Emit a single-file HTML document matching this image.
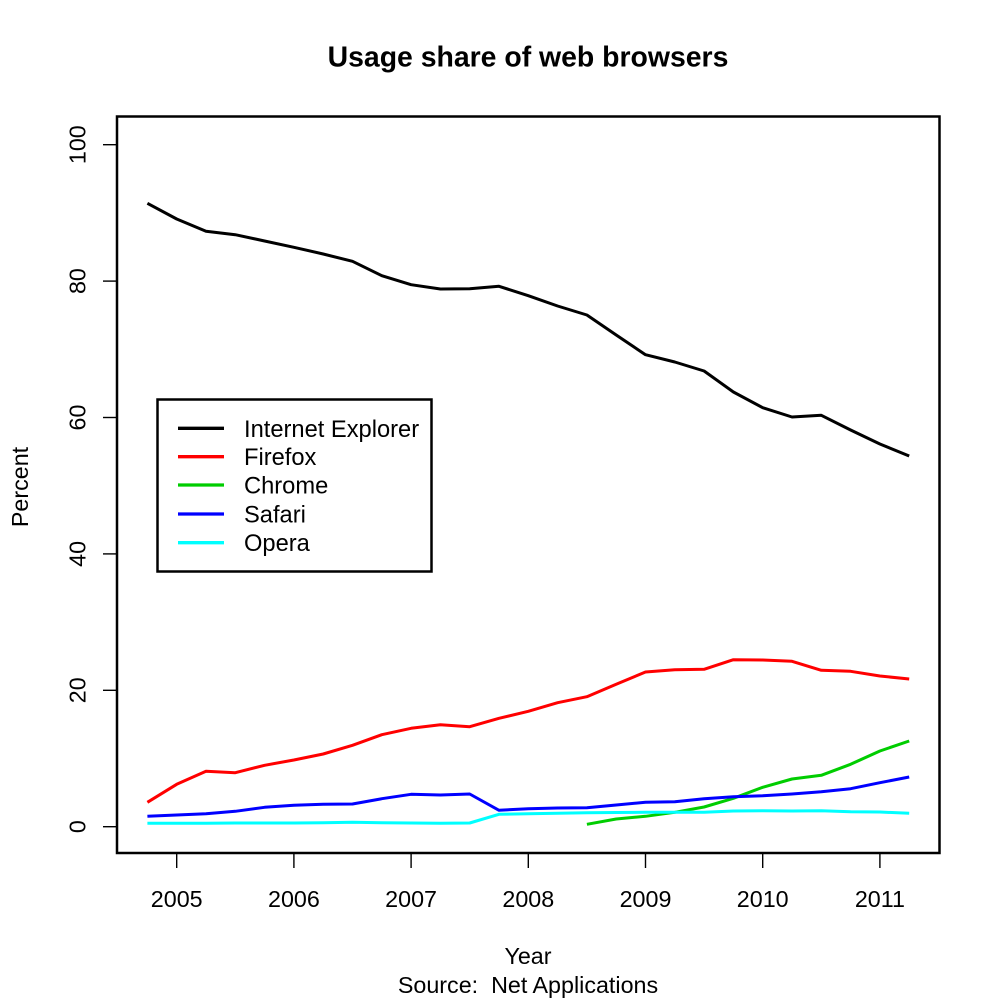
<!DOCTYPE html>
<html><head><meta charset="utf-8"><style>
html,body{margin:0;padding:0;background:#fff;}
svg{display:block;}
text{font-family:"Liberation Sans",Arial,sans-serif;fill:#000;}
</style></head><body>
<svg width="1000" height="1000" viewBox="0 0 1000 1000" xmlns="http://www.w3.org/2000/svg">
<rect width="1000" height="1000" fill="#fff"/>
<text x="528" y="66.5" font-size="28.4" font-weight="bold" text-anchor="middle">Usage share of web browsers</text>
<rect x="117" y="116.5" width="822.5" height="736.5" fill="none" stroke="#000" stroke-width="2.5"/>
<g stroke="#000" stroke-width="1.4">
<line x1="103" y1="826.7" x2="117" y2="826.7"/>
<line x1="103" y1="690.3" x2="117" y2="690.3"/>
<line x1="103" y1="553.9" x2="117" y2="553.9"/>
<line x1="103" y1="417.5" x2="117" y2="417.5"/>
<line x1="103" y1="281.1" x2="117" y2="281.1"/>
<line x1="103" y1="144.7" x2="117" y2="144.7"/>
<line x1="176.7" y1="854" x2="176.7" y2="868"/>
<line x1="293.9" y1="854" x2="293.9" y2="868"/>
<line x1="411.1" y1="854" x2="411.1" y2="868"/>
<line x1="528.3" y1="854" x2="528.3" y2="868"/>
<line x1="645.5" y1="854" x2="645.5" y2="868"/>
<line x1="762.7" y1="854" x2="762.7" y2="868"/>
<line x1="879.9" y1="854" x2="879.9" y2="868"/>
</g>
<g font-size="23.3" text-anchor="middle">
<text transform="translate(85.5,826.7) rotate(-90)">0</text>
<text transform="translate(85.5,690.3) rotate(-90)">20</text>
<text transform="translate(85.5,553.9) rotate(-90)">40</text>
<text transform="translate(85.5,417.5) rotate(-90)">60</text>
<text transform="translate(85.5,281.1) rotate(-90)">80</text>
<text transform="translate(85.5,144.7) rotate(-90)">100</text>
<text transform="translate(28,487) rotate(-90)">Percent</text>
<text x="176.7" y="907">2005</text>
<text x="293.9" y="907">2006</text>
<text x="411.1" y="907">2007</text>
<text x="528.3" y="907">2008</text>
<text x="645.5" y="907">2009</text>
<text x="762.7" y="907">2010</text>
<text x="879.9" y="907">2011</text>
<text x="528" y="964">Year</text>
<text x="528" y="993" xml:space="preserve">Source:  Net Applications</text>
</g>
<g fill="none" stroke-width="3" stroke-linejoin="round">
<polyline stroke="#000" points="147.4,203.3 176.7,219 206,231.3 235.3,234.7 264.6,241 293.9,247.3 323.2,254 352.5,261.3 381.8,275.7 411.1,284.7 440.4,289 469.7,288.7 499,286.3 528.3,295.7 557.6,306 586.9,315 616.2,335 645.5,354.7 674.8,362 704.1,371 733.4,392 762.7,407.7 792,417 821.3,415.3 850.6,430 879.9,444 909.2,456"/>
<polyline stroke="#ff0000" points="147.4,802.3 176.7,784.3 206,771.3 235.3,772.7 264.6,765.3 293.9,760 323.2,754 352.5,745.3 381.8,734.7 411.1,728.3 440.4,724.7 469.7,726.7 499,718.3 528.3,711.3 557.6,702.7 586.9,696.7 616.2,684.3 645.5,672 674.8,669.7 704.1,669.3 733.4,659.7 762.7,660 792,661.3 821.3,670.3 850.6,671.3 879.9,676 909.2,679"/>
<polyline stroke="#00cd00" points="586.9,824.3 616.2,819 645.5,816.3 674.8,812.3 704.1,807 733.4,798.3 762.7,787.3 792,779 821.3,775.3 850.6,764.3 879.9,751 909.2,741"/>
<polyline stroke="#0000ff" points="147.4,816.3 176.7,815 206,813.7 235.3,811.3 264.6,807.3 293.9,805.3 323.2,804.3 352.5,804 381.8,798.7 411.1,794.3 440.4,795 469.7,794 499,810.3 528.3,808.7 557.6,808 586.9,807.7 616.2,805 645.5,802.3 674.8,801.7 704.1,798.7 733.4,796.7 762.7,795.7 792,794 821.3,791.7 850.6,788.7 879.9,782.7 909.2,777"/>
<polyline stroke="#00ffff" points="147.4,823.3 176.7,823.3 206,823.3 235.3,823 264.6,823 293.9,823 323.2,822.7 352.5,822.3 381.8,822.7 411.1,823 440.4,823.3 469.7,823 499,814.3 528.3,813.7 557.6,813.3 586.9,812.7 616.2,812.5 645.5,812.3 674.8,812.3 704.1,812.3 733.4,811 762.7,810.7 792,811 821.3,810.7 850.6,811.7 879.9,812 909.2,813.3"/>
</g>
<rect x="157.5" y="399.5" width="274" height="172" fill="#fff" stroke="#000" stroke-width="2.5"/>
<g stroke-width="3.3">
<line x1="178" y1="428.3" x2="224" y2="428.3" stroke="#000"/>
<line x1="178" y1="456.7" x2="224" y2="456.7" stroke="#ff0000"/>
<line x1="178" y1="485" x2="224" y2="485" stroke="#00cd00"/>
<line x1="178" y1="514" x2="224" y2="514" stroke="#0000ff"/>
<line x1="178" y1="542.7" x2="224" y2="542.7" stroke="#00ffff"/>
</g>
<g font-size="23.7">
<text x="244" y="436.8">Internet Explorer</text>
<text x="244" y="465.2">Firefox</text>
<text x="244" y="493.5">Chrome</text>
<text x="244" y="522.5">Safari</text>
<text x="244" y="551.2">Opera</text>
</g>
</svg>
</body></html>
